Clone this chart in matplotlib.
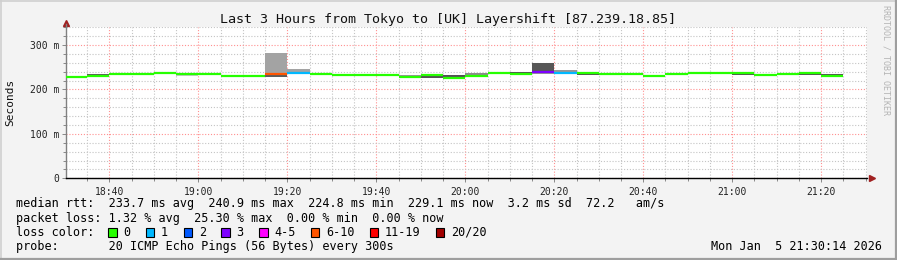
import matplotlib
matplotlib.use("Agg")
import matplotlib.pyplot as plt
import matplotlib.dates as mdates
from matplotlib.lines import Line2D
from matplotlib.patches import Rectangle
from matplotlib.ticker import MultipleLocator, FixedLocator, FixedFormatter
import pandas as pd

W, H = 897, 260
MONO = "DejaVu Sans Mono"

title = "Last 3 Hours from Tokyo to [UK] Layershift [87.239.18.85]"
t_start = pd.Timestamp("2026-01-05 18:30:14")
t_end = pd.Timestamp("2026-01-05 21:30:14")

# one value per 5 min step (step left edge 18:30 ... 21:20), first one clipped at the left
median_ms = [229, 230, 234, 235, 238, 235, 235, 230, 230, 235,
             237, 235, 233, 233, 233, 229, 232, 225, 231, 238,
             235, 239, 237, 236, 234, 234, 231, 234, 236, 236,
             236, 232, 234, 236, 231]
smoke_hi = [230, 234, 238, 236, 239, 236, 236, 231, 231, 282,
            246, 236, 234, 234, 234, 232, 233, 232, 238, 239,
            239, 260, 243, 237, 235, 235, 232, 235, 237, 237,
            237, 233, 235, 237, 234]
smoke_lo = [228, 229, 233, 232, 234, 231, 232, 229, 229, 229,
            235, 234, 232, 232, 230, 228, 226, 224, 230, 234,
            234, 234, 235, 233, 233, 233, 230, 233, 235, 235,
            232, 231, 233, 232, 230]
# how dense the pings are above / below the median (0 = sparse, 1 = dense)
dens_up = [0.8, 0.85, 0.25, 0.6, 0.5, 0.3, 0.5, 0.7, 0.7, 0.48,
           0.48, 0.7, 0.7, 0.7, 0.7, 0.55, 0.7, 0.9, 0.6, 0.9,
           0.9, 0.88, 0.55, 0.7, 0.7, 0.7, 0.7, 0.7, 0.7, 0.7,
           0.7, 0.7, 0.7, 0.7, 0.9]
dens_dn = [0.8, 0.85, 0.3, 0.85, 0.55, 0.3, 0.65, 0.7, 0.7, 0.85,
           0.75, 0.7, 0.7, 0.7, 0.9, 0.6, 0.9, 0.9, 0.6, 0.9,
           0.9, 0.55, 0.6, 0.9, 0.7, 0.7, 0.7, 0.7, 0.7, 0.7,
           0.9, 0.7, 0.7, 0.9, 0.9]
# lost pings (of 20) per step
loss = [0, 0, 0, 0, 0, 0, 0, 0, 0, 7,
        1, 0, 0, 0, 0, 0, 0, 0, 0, 0,
        0, 3, 1, 0, 0, 0, 0, 0, 0, 0,
        0, 0, 0, 0, 0]

loss_labels = ["0", "1", "2", "3", "4-5", "6-10", "11-19", "20/20"]
loss_upper = [0, 1, 2, 3, 5, 10, 19, 20]
loss_colors = ["#26ff00", "#00b8ff", "#0059ff", "#7e00ff",
               "#ff00ff", "#ff5500", "#ff0000", "#a10000"]

y_ticks = [0, 100, 200, 300]
y_labels = ["0", "100 m", "200 m", "300 m"]

stats_line = ("median rtt:  233.7 ms avg  240.9 ms max  224.8 ms min  "
              "229.1 ms now  3.2 ms sd  72.2   am/s")
loss_line = "packet loss: 1.32 % avg  25.30 % max  0.00 % min  0.00 % now"
probe_line = "probe:       20 ICMP Echo Pings (56 Bytes) every 300s"
stamp = "Mon Jan  5 21:30:14 2026"


def fx(x):
    return x / W


def fy(y):
    return 1 - y / H


def loss_color(n):
    for up, c in zip(loss_upper, loss_colors):
        if n <= up:
            return c
    return loss_colors[-1]


def gray(d):
    g = 1 - 0.75 * d
    return (g, g, g)


fig = plt.figure(figsize=(W / 100, H / 100), dpi=100, facecolor="#f3f3f3")

# 3d-ish frame of the rrdtool canvas
fig.add_artist(Line2D([0, 1], [fy(0.5), fy(0.5)], color="#d0d0d0", lw=1.2))
fig.add_artist(Line2D([fx(0.5), fx(0.5)], [0, 1], color="#d0d0d0", lw=1.2))
fig.add_artist(Line2D([0, 1], [fy(259), fy(259)], color="#9e9e9e", lw=1.6))
fig.add_artist(Line2D([fx(896), fx(896)], [0, 1], color="#9e9e9e", lw=1.6))

ax = fig.add_axes([fx(66), fy(178.3), (866.7 - 66) / W, (178.3 - 27.2) / H])
ax.set_facecolor("white")

edges = pd.date_range("2026-01-05 18:30", periods=len(median_ms) + 1, freq="5min")
left = edges[:-1]
width = 5 / 1440

up_h = [h - m for h, m in zip(smoke_hi, median_ms)]
dn_h = [m - lo for m, lo in zip(median_ms, smoke_lo)]
ax.bar(left, up_h, bottom=median_ms, width=width, align="edge",
       color=[gray(d) for d in dens_up], linewidth=0, zorder=3)
ax.bar(left, dn_h, bottom=smoke_lo, width=width, align="edge",
       color=[gray(d) for d in dens_dn], linewidth=0, zorder=3)
ax.hlines(median_ms, left, edges[1:], colors=[loss_color(n) for n in loss],
          linewidth=1.6, zorder=4)

ax.set_xlim(t_start, t_end)
ax.set_ylim(0, 340)

ax.xaxis.set_major_locator(mdates.MinuteLocator(byminute=[0, 20, 40]))
ax.xaxis.set_minor_locator(mdates.MinuteLocator(byminute=range(0, 60, 5)))
ax.xaxis.set_major_formatter(mdates.DateFormatter("%H:%M"))
ax.yaxis.set_major_locator(FixedLocator(y_ticks))
ax.yaxis.set_major_formatter(FixedFormatter(y_labels))
ax.yaxis.set_minor_locator(MultipleLocator(20))

ax.grid(which="minor", color="#c4c4c4", linestyle=(0, (1, 1.6)), linewidth=0.8)
ax.grid(which="major", color="#ff9090", linestyle=(0, (1, 1.6)), linewidth=0.8)
ax.set_axisbelow(True)
ax.axvline(1, color="#c4c4c4", linestyle=(0, (1, 1.6)), linewidth=0.8)

for s in ("top", "right"):
    ax.spines[s].set_visible(False)
ax.spines["bottom"].set_color("black")
ax.spines["bottom"].set_linewidth(1.0)
ax.spines["left"].set_color("#808080")
ax.spines["left"].set_linewidth(1.0)

ax.tick_params(which="both", direction="out", color="#888888", width=0.7)
ax.tick_params(which="major", length=3, labelsize=7, pad=3)
ax.tick_params(which="minor", length=2)
for lab in ax.get_xticklabels() + ax.get_yticklabels():
    lab.set_family(MONO)
    lab.set_color("#222222")
ax.tick_params(axis="y", pad=2)

# axis arrows
ax.plot([0], [1.025], marker="^", markersize=4, color="#a02020",
        transform=ax.transAxes, clip_on=False)
ax.plot([1.006], [0], marker=">", markersize=4, color="#a02020",
        transform=ax.transAxes, clip_on=False)
ax.plot([0, 0], [1.0, 1.02], color="#808080", lw=1.0,
        transform=ax.transAxes, clip_on=False)

fig.text(fx(448), fy(19), title, ha="center", va="center",
         fontsize=9.6, family=MONO, color="#111111")
fig.text(fx(10), fy(102), "Seconds", rotation=90, ha="center", va="center",
         fontsize=8, family=MONO, color="#111111")
fig.text(fx(886), fy(60), "RRDTOOL / TOBI OETIKER", rotation=270,
         ha="center", va="center", fontsize=6.0, family=MONO, color="#b4b4b4")

fs = 8.5
cw = 7.08
fig.text(fx(16), fy(204), stats_line, ha="left", va="center", fontsize=fs, family=MONO)
fig.text(fx(16), fy(218.3), loss_line, ha="left", va="center", fontsize=fs, family=MONO)
fig.text(fx(16), fy(232), "loss color:", ha="left", va="center", fontsize=fs, family=MONO)
fig.text(fx(16), fy(246.5), probe_line, ha="left", va="center", fontsize=fs, family=MONO)
fig.text(fx(882), fy(246.5), stamp, ha="right", va="center", fontsize=fs, family=MONO)

bx = 108.3
for lab, col in zip(loss_labels, loss_colors):
    fig.add_artist(Rectangle((fx(bx), fy(236.5)), 8.5 / W, 9 / H,
                             facecolor=col, edgecolor="black", linewidth=0.8))
    fig.text(fx(bx + 15), fy(232), lab, ha="left", va="center",
             fontsize=fs, family=MONO)
    bx += 15 + len(lab) * cw + 15.6

fig.savefig("out.png", dpi=100, facecolor=fig.get_facecolor())
